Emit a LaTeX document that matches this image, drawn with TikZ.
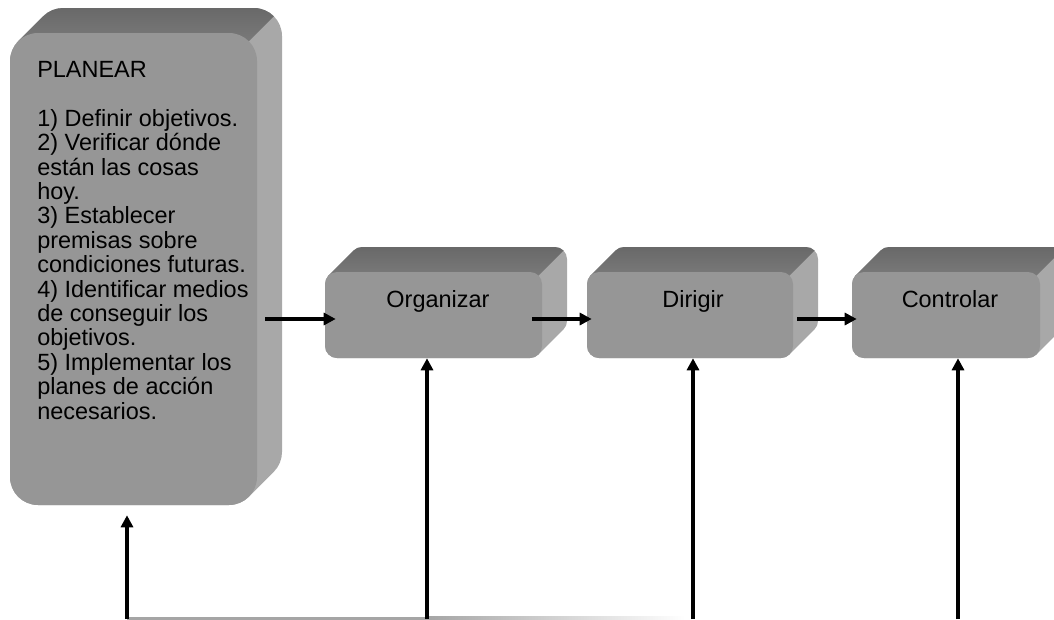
\documentclass[tikz,border=0pt]{standalone}
\usepackage{fontspec}
\setmainfont{Liberation Sans}
\usetikzlibrary{fit,arrows.meta,calc}
\definecolor{frontc}{RGB}{150,150,150}
\definecolor{topc}{RGB}{104,104,104}
\definecolor{topfc}{RGB}{122,122,122}
\definecolor{sidec}{RGB}{168,168,168}
\definecolor{linec}{RGB}{165,165,165}
\tikzset{
  face/.style={fill=frontc, draw=none, inner sep=0pt},
  lab/.style={inner sep=0pt, font=\fontsize{17.6}{18.3}\selectfont, text=black},
  conn/.style={line width=2.5pt, -{Triangle[length=9pt,width=9pt]}},
}
\newcommand\tdbox[6]{%
  \pgfmathsetmacro\kk{0.2929*#6}%
  \pgfmathsetmacro\ax{#2+\kk}%
  \pgfmathsetmacro\ay{#3+\kk}%
  \pgfmathsetmacro\cx{#4-\kk}%
  \pgfmathsetmacro\cy{#5-\kk}%
  \pgfmathsetmacro\px{#4-\kk}%
  \pgfmathsetmacro\py{#3+\kk}%
  \pgfmathsetmacro\rr{0.75*#6}%
  \begin{scope}
    \clip ({\ax+25},{\ay-25}) arc[start angle=225,end angle=270,radius=#6]
      -- ({#4+25-#6},{#3-25}) arc[start angle=270,end angle=360,radius=#6]
      -- ({#4+25},{#5-25-#6}) arc[start angle=0,end angle=45,radius=#6]
      -- (\cx,\cy) arc[start angle=45,end angle=90,radius=#6]
      -- ({#2+#6},#5) arc[start angle=90,end angle=180,radius=#6]
      -- (#2,{#3+#6}) arc[start angle=180,end angle=225,radius=#6] -- cycle;
    \fill[sidec] ({#2-30},{#3-30}) rectangle ({#4+30},{#5+30});
    \begin{scope}
      \clip ({\px+100},{\py-100}) -- ({\px-1000},{\py+1000}) -- ({\px-1000},{\py-100}) -- cycle;
      \shade[top color=topc, bottom color=topfc] ({#2-30},{#3-26}) rectangle ({#4+30},{\py+1});
    \end{scope}
  \end{scope}
  \node[face, rounded corners=\rr pt, fit={(#2,#3)(#4,#5)}] (#1) {};
}
\begin{document}
\begin{tikzpicture}[x=0.75pt,y=-0.75pt]
\useasboundingbox (0,0) rectangle (1054,619);
\clip (0,0) rectangle (1054,619);

\tdbox{pl}{10}{33}{257}{505}{28}
\tdbox{org}{325}{272}{542}{358}{12}
\tdbox{dir}{587}{272}{793}{358}{12}
\tdbox{ctl}{852}{272}{1040}{358}{12}

\node[lab, anchor=north west, align=left] (plT) at (37,61) {PLANEAR\\[18.3pt]
1) Definir objetivos.\\
2) Verificar dónde\\
están las cosas\\
hoy.\\
3) Establecer\\
premisas sobre\\
condiciones futuras.\\
4) Identificar medios\\
de conseguir los\\
objetivos.\\
5) Implementar los\\
planes de acción\\
necesarios.};

\node[lab, anchor=base] (orgT) at (438,307) {Organizar};
\node[lab, anchor=base] (dirT) at (693,307) {Dirigir};
\node[lab, anchor=base] (ctlT) at (950,307) {Controlar};

% horizontal flow
\draw[conn] ($(pl.east|-org.west)+(8,4)$) -- ($(org.west)+(11,4)$);
\draw[conn] ($(org.east)+(-10,4)$) -- ($(dir.west)+(5,4)$);
\draw[conn] ($(dir.east)+(4,4)$) -- ($(ctl.west)+(5,4)$);

% feedback line at bottom
\coordinate (fp) at (127,619);
\coordinate (fo) at (427,619);
\coordinate (fd) at (693,619);
\coordinate (fc) at (958,619);
\fill[linec] (127,616.8) rectangle (427,619.5);
\shade[left color=linec, right color=white] (427,616.8) rectangle (685,619.5);

\draw[conn] (fp) -- ($(fp|-pl.south)+(0,10)$);
\draw[conn] (fo) -- (fo|-org.south);
\draw[conn] (fd) -- (fd|-dir.south);
\draw[conn] (fc) -- (fc|-ctl.south);
\end{tikzpicture}
\end{document}
